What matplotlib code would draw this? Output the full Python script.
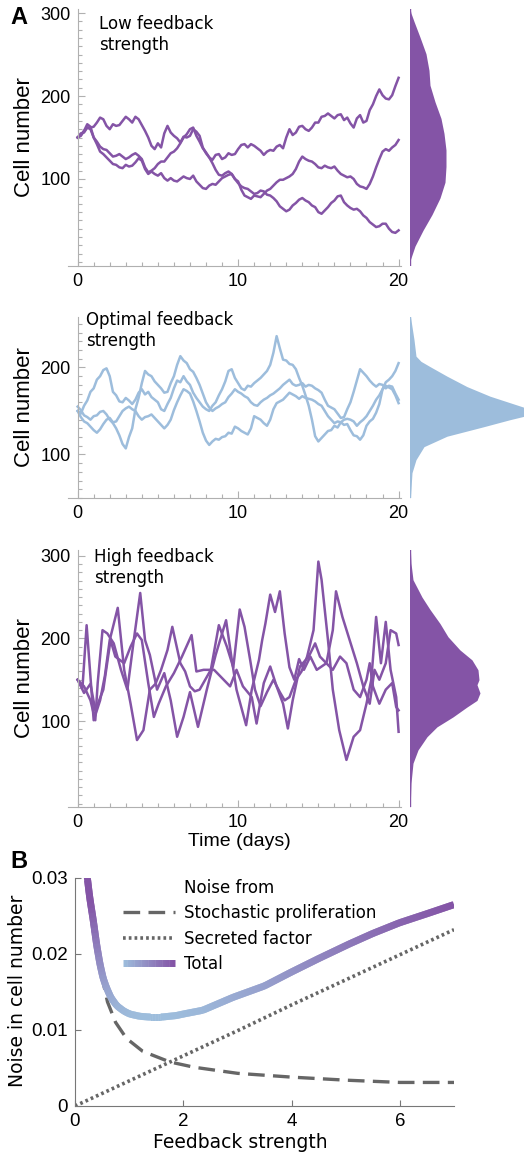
import numpy as np
import matplotlib
matplotlib.use("Agg")
import matplotlib.pyplot as plt
from matplotlib.collections import LineCollection
from matplotlib.colors import LinearSegmentedColormap, Normalize
from matplotlib.legend_handler import HandlerLineCollection
from matplotlib.lines import Line2D
from matplotlib.ticker import MultipleLocator

PURPLE = "#8454a6"
BLUE = "#9dbddc"
GREY = "#666666"
AXGREY = "#b0b0b0"

# ---------------- Panel A: low feedback (values every 0.2 days) ----------------
low_days = np.linspace(0, 20, 101)
low_a = [150, 155, 156, 162, 162, 163, 168, 174, 172, 164,
         160, 166, 164, 165, 170, 175, 172, 168, 175, 172,
         165, 158, 150, 140, 136, 143, 138, 155, 164, 156,
         152, 149, 144, 151, 150, 152, 160, 157, 152, 138,
         131, 126, 123, 129, 130, 124, 126, 131, 129, 130,
         136, 141, 142, 138, 142, 140, 137, 134, 129, 133,
         135, 134, 139, 141, 137, 150, 160, 153, 156, 163,
         164, 160, 158, 162, 168, 168, 175, 176, 179, 176,
         173, 177, 178, 171, 174, 167, 162, 173, 177, 168,
         170, 183, 190, 200, 208, 201, 197, 196, 201, 212, 222]
low_b = [150, 153, 158, 162, 160, 150, 145, 139, 136, 135,
         131, 127, 128, 130, 127, 124, 126, 129, 131, 128,
         124, 114, 108, 110, 113, 118, 121, 121, 126, 131,
         133, 137, 143, 150, 154, 160, 162, 152, 145, 137,
         132, 126, 119, 111, 105, 104, 107, 109, 106, 100,
         97, 87, 80, 78, 76, 80, 79, 78, 82, 86,
         88, 92, 96, 99, 99, 101, 103, 106, 112, 121,
         127, 124, 122, 121, 118, 114, 113, 116, 114, 113,
         115, 110, 106, 104, 102, 103, 100, 94, 91, 90,
         88, 94, 103, 114, 124, 133, 136, 134, 138, 141, 147]
low_c = [150, 152, 158, 166, 163, 150, 142, 133, 130, 126,
         122, 118, 117, 114, 113, 117, 115, 116, 120, 125,
         122, 112, 106, 109, 106, 104, 107, 101, 98, 101,
         98, 97, 100, 103, 101, 100, 104, 97, 93, 89,
         88, 92, 94, 93, 97, 101, 103, 105, 106, 100,
         95, 91, 89, 88, 85, 82, 83, 86, 85, 81,
         80, 77, 73, 67, 64, 61, 63, 68, 71, 75,
         77, 74, 72, 68, 66, 60, 58, 62, 66, 71,
         74, 79, 80, 72, 68, 65, 63, 64, 61, 56,
         53, 48, 45, 42, 43, 46, 46, 40, 36, 35, 38]
low_dist_level = [306, 300, 290, 271, 251, 231, 213, 193, 173, 155, 135, 115, 96, 77, 57, 38, 19, 3, -5]
low_dist_width = [0, 1, 4, 10, 16, 19, 20, 25, 31, 34, 36, 36, 35, 30, 22, 13, 5, 0.5, 0]

# ---------------- Panel A: optimal feedback (values every 0.2 days) ----------------
opt_days = np.linspace(0, 20, 101)
opt_a = [150, 147, 156, 162, 172, 176, 186, 190, 197, 199,
         190, 172, 168, 161, 160, 165, 162, 158, 163, 171,
         175, 169, 172, 166, 163, 160, 152, 150, 158, 165,
         176, 185, 183, 190, 184, 180, 171, 165, 160, 155,
         152, 150, 156, 160, 168, 175, 184, 196, 198, 188,
         182, 176, 174, 179, 178, 182, 185, 188, 192, 196,
         203, 217, 236, 222, 209, 208, 204, 203, 198, 188,
         179, 168, 156, 140, 121, 115, 119, 123, 127, 128,
         133, 131, 137, 134, 135, 128, 122, 121, 117, 122,
         133, 138, 141, 148, 158, 175, 183, 186, 190, 196, 205]
opt_b = [155, 151, 145, 143, 140, 144, 145, 149, 150, 146,
         140, 136, 130, 122, 112, 107, 120, 130, 152, 165,
         182, 196, 192, 190, 184, 180, 176, 171, 172, 182,
         190, 203, 213, 208, 205, 198, 195, 188, 180, 170,
         160, 154, 150, 153, 155, 158, 160, 166, 170, 175,
         172, 170, 167, 165, 160, 157, 156, 160, 163, 165,
         168, 170, 173, 176, 180, 183, 186, 181, 179, 180,
         182, 178, 180, 179, 176, 174, 171, 163, 156, 154,
         152, 147, 142, 143, 152, 160, 172, 185, 198, 194,
         190, 185, 181, 178, 181, 180, 176, 179, 178, 170, 163]
opt_c = [150, 143, 138, 136, 132, 128, 125, 129, 135, 140,
         142, 137, 138, 144, 150, 153, 155, 152, 150, 144,
         140, 143, 144, 146, 142, 138, 134, 130, 134, 140,
         151, 160, 168, 175, 173, 170, 161, 150, 138, 125,
         116, 111, 115, 118, 117, 120, 121, 125, 124, 132,
         130, 127, 125, 123, 130, 144, 142, 140, 136, 133,
         140, 152, 159, 161, 163, 167, 171, 169, 167, 164,
         167, 165, 164, 163, 161, 158, 156, 150, 144, 140,
         136, 138, 137, 140, 141, 140, 138, 133, 137, 140,
         144, 150, 156, 163, 168, 175, 179, 177, 175, 168, 159]
opt_dist_level = [258, 232, 213, 207, 201, 190, 178, 167, 161, 155, 150, 145, 140, 132, 121, 109, 94, 79, 52, 50]
opt_dist_width = [0.5, 4, 6, 11, 20, 37, 57, 80, 96, 112, 125, 118, 100, 74, 37, 14, 6, 2, 0.5, 0.3]

# ---------------- Panel A: high feedback ----------------
high_a_t = [0, 0.3, 0.56, 1.0, 1.4, 1.7, 2.0, 2.5, 2.9, 3.3, 3.7, 4.1, 4.5, 4.85, 5.2, 5.6, 5.9, 6.4, 6.7,
            7.0, 7.3, 7.6, 7.95, 8.3, 8.8, 9.3, 9.7, 10.1, 10.4, 10.75, 11.05, 11.4, 11.8, 12.2, 12.6, 12.9,
            13.2, 13.6, 13.95, 14.3, 14.7, 15.0, 15.2, 15.6, 15.9, 16.3, 16.75, 17.2, 17.6, 18.0, 18.3, 18.6,
            18.9, 19.2, 19.5, 19.85, 20.0]
high_a_v = [150, 140, 216, 101, 125, 155, 198, 237, 162, 121, 77, 89, 138, 145, 162, 186, 214, 170, 160,
            142, 136, 138, 150, 162, 216, 190, 165, 235, 214, 174, 138, 118, 135, 150, 135, 125,
            129, 150, 160, 178, 210, 293, 271, 198, 138, 89, 53, 81, 89, 121, 150, 226,
            170, 220, 162, 129, 87]
high_b_t = [0, 0.4, 0.8, 1.1, 1.25, 1.55, 1.85, 2.25, 2.7, 3.1, 3.5, 3.9, 4.2, 4.5, 4.95, 5.4, 5.8, 6.2, 6.6,
            7.0, 7.5, 8.05, 8.6, 9.25, 9.6, 9.9, 10.5, 10.85, 11.3, 11.5, 11.7, 12.0, 12.3, 12.6, 12.9, 13.2,
            13.5, 13.8, 14.1, 14.5, 14.9, 15.5, 15.9, 16.1, 16.5, 16.95, 17.4, 17.8, 18.2, 18.5, 18.8, 19.2,
            19.5, 19.85, 20.0]
high_b_v = [150, 142, 125, 101, 146, 210, 206, 194, 162, 138, 198, 255, 198, 180, 138, 158, 125, 81, 105,
            135, 93, 138, 180, 222, 175, 138, 95, 138, 174, 198, 218, 253, 232, 257, 206, 165,
            150, 175, 162, 178, 162, 170, 210, 257, 226, 198, 170, 142, 121, 162, 150, 170,
            210, 206, 192]
high_c_t = [0, 0.4, 0.8, 1.1, 1.6, 2.05, 2.35, 2.9, 3.3, 3.7, 4.0, 4.4, 4.75, 5.05, 5.5, 6.0, 6.5, 7.1, 7.4,
            7.85, 8.5, 8.9, 9.5, 9.9, 10.3, 10.85, 11.15, 11.6, 12.0, 12.4, 12.8, 13.1, 13.4, 13.85, 14.4,
            14.8, 15.1, 15.5, 15.9, 16.35, 16.75, 17.2, 17.6, 18.0, 18.2, 18.4, 18.8, 19.2, 19.6, 19.85, 20.0]
high_c_v = [150, 134, 145, 113, 138, 198, 178, 170, 190, 206, 198, 146, 105, 121, 142, 158, 178, 204, 160,
            162, 162, 154, 142, 162, 142, 129, 97, 146, 166, 142, 121, 91, 125, 166, 178,
            194, 178, 170, 162, 178, 170, 138, 129, 150, 170, 142, 121, 138, 146, 117, 113]
high_dist_level = [310, 291, 271, 250, 235, 218, 202, 186, 174, 162, 150, 144, 134, 125, 117, 105, 93, 81,
                   65, 49, 25, 0, -4]
high_dist_width = [0.3, 1, 3, 12, 20, 30, 38, 50, 62, 68, 69, 67, 70, 67, 57, 43, 27, 17, 8, 3, 1, 0.3, 0.3]

# ---------------- Panel B ----------------
prolif_x = [0.22, 0.3, 0.37, 0.48, 0.6, 0.75, 0.95, 1.25, 1.75, 2.2, 2.6, 3.0, 4.0, 5.0, 6.0, 7.0]
prolif_y = [0.0305, 0.025, 0.0215, 0.0176, 0.0137, 0.011, 0.0089, 0.0072, 0.0058, 0.0051, 0.0047, 0.0043,
            0.0038, 0.0034, 0.0031, 0.0031]
secreted_x = [0, 1, 2, 3, 4, 5, 6, 7]
secreted_y = [0, 0.0033, 0.0066, 0.0099, 0.0133, 0.0166, 0.0199, 0.0232]
total_x = [0.22, 0.27, 0.34, 0.40, 0.46, 0.52, 0.58, 0.66, 0.77, 0.9, 1.01, 1.2, 1.38, 1.6, 1.87, 2.0, 2.36,
           2.92, 3.5, 3.99, 4.5, 5.06, 5.5, 5.99, 6.5, 7.0]
total_y = [0.0305, 0.0275, 0.0243, 0.0212, 0.0187, 0.0168, 0.0156, 0.0143, 0.0132, 0.0125, 0.0121, 0.0118,
           0.0117, 0.0117, 0.0119, 0.0121, 0.0126, 0.0143, 0.0158, 0.0176, 0.0194, 0.0213, 0.0227, 0.0241,
           0.0253, 0.0265]
legend_labels = ["Stochastic proliferation", "Secreted factor", "Total"]

W, H = 524, 1159
fig = plt.figure(figsize=(W / 100, H / 100), dpi=100)


def px_box(l, t, r, b):
    return [l / W, 1 - b / H, (r - l) / W, (b - t) / H]


def trace_panel(top, bottom, traces, color, ylim, yticks, dist_lv, dist_w, title, title_y):
    ax = fig.add_axes(px_box(68, top, 401, bottom))
    for t, v in traces:
        ax.plot(t, v, color=color, lw=1.8, solid_joinstyle="round")
    ax.set_xlim(-0.6, 20.15)
    ax.set_ylim(*ylim)
    ax.spines["left"].set_position(("data", 0))
    for s in ["top", "right"]:
        ax.spines[s].set_visible(False)
    for s in ["left", "bottom"]:
        ax.spines[s].set_color(AXGREY)
        ax.spines[s].set_linewidth(0.8)
    ax.set_xticks([0, 10, 20])
    ax.set_yticks(yticks)
    ax.xaxis.set_minor_locator(MultipleLocator(1))
    ax.yaxis.set_minor_locator(MultipleLocator(10))
    ax.tick_params(which="both", direction="in", color=AXGREY, width=0.8)
    ax.tick_params(which="major", length=5, pad=5, labelsize=13)
    ax.tick_params(which="minor", length=3)
    for lab in ax.get_xticklabels() + ax.get_yticklabels():
        lab.set_family("Liberation Sans")
    ax.patch.set_alpha(0)

    # stationary distribution on the right
    axd = fig.add_axes(px_box(410, top, 524, bottom))
    axd.fill_betweenx(dist_lv, 0, dist_w, color=color, lw=0)
    axd.plot([0, 0], [min(dist_lv), max(dist_lv)], color=color, lw=1)
    axd.set_xlim(0, 114)
    axd.set_ylim(*ylim)
    axd.axis("off")

    fig.text(25 / W, 1 - (top + bottom) / 2 / H, "Cell number", rotation=90, ha="center", va="center",
             fontsize=16, family="Liberation Sans")
    fig.text(title[1] / W, 1 - title_y / H, title[0], ha="left", va="top", fontsize=12)
    return ax


trace_panel(9, 266, [(low_days, low_a), (low_days, low_b), (low_days, low_c)], PURPLE, (-5, 305),
            [100, 200, 300], low_dist_level, low_dist_width, ("Low feedback\nstrength", 99), 15)
trace_panel(317, 498, [(opt_days, opt_a), (opt_days, opt_b), (opt_days, opt_c)], BLUE, (50, 258),
            [100, 200], opt_dist_level, opt_dist_width, ("Optimal feedback\nstrength", 86), 311)
trace_panel(550, 807, [(high_a_t, high_a_v), (high_b_t, high_b_v), (high_c_t, high_c_v)], PURPLE, (-4, 307),
            [100, 200, 300], high_dist_level, high_dist_width, ("High feedback\nstrength", 94), 548)

fig.text(239 / W, 1 - 842 / H, "Time (days)", ha="center", va="center", fontsize=14, family="Liberation Sans")
fig.text(19 / W, 1 - 18 / H, "A", ha="center", va="center", fontsize=17, weight="bold", family="Liberation Sans")
fig.text(19 / W, 1 - 861 / H, "B", ha="center", va="center", fontsize=17, weight="bold", family="Liberation Sans")

# ---------------- Panel B axes ----------------
axb = fig.add_axes(px_box(75, 878, 454, 1106))
axb.plot(prolif_x, prolif_y, color=GREY, lw=2.4, dashes=(5, 2.5))
axb.plot(secreted_x, secreted_y, color=GREY, lw=2.6, dashes=(0.75, 0.85))

cmap = LinearSegmentedColormap.from_list("bp", [BLUE, PURPLE])


def gradient_segments(x, y):
    # each segment spans two steps so neighbours overlap and no seams show
    p = np.array([x, y]).T.reshape(-1, 1, 2)
    return np.concatenate([p[:-2], p[2:]], axis=1)


# dense resampling only so the colour gradient changes smoothly along the line
xs = np.linspace(total_x[0], total_x[-1], 500)
ys = np.interp(xs, total_x, total_y)
lc = LineCollection(gradient_segments(xs, ys), cmap=cmap, norm=Normalize(min(total_y), total_y[-1]),
                    lw=5, capstyle="butt", joinstyle="round")
lc.set_array(ys[1:-1])
axb.add_collection(lc)

axb.set_xlim(0, 7)
axb.set_ylim(0, 0.03)
for s in ["top", "right"]:
    axb.spines[s].set_visible(False)
for s in ["left", "bottom"]:
    axb.spines[s].set_color("#777777")
axb.set_xticks([0, 2, 4, 6])
axb.set_yticks([0, 0.01, 0.02, 0.03])
axb.set_yticklabels(["0", "0.01", "0.02", "0.03"])
axb.tick_params(direction="in", color="#777777", length=4, labelsize=13.5, pad=5)
for lab in axb.get_xticklabels() + axb.get_yticklabels():
    lab.set_family("Liberation Sans")
fig.text(240 / W, 1 - 1143 / H, "Feedback strength", ha="center", va="center", fontsize=13.5)
fig.text(18 / W, 1 - 991 / H, "Noise in cell number", rotation=90, ha="center", va="center", fontsize=13.5)


class GradientHandler(HandlerLineCollection):
    def create_artists(self, legend, orig_handle, xdescent, ydescent, width, height, fontsize, trans):
        gx = np.linspace(0, width, 60) - xdescent
        gy = np.full_like(gx, height / 2 - ydescent)
        g = LineCollection(gradient_segments(gx, gy), cmap=cmap, norm=Normalize(0, 1), transform=trans,
                           lw=5, capstyle="butt")
        g.set_array(np.linspace(0, 1, len(gx) - 2))
        return [g]


proxy = LineCollection([], cmap=cmap)
handles = [Line2D([], [], color=GREY, lw=2.4, dashes=(5, 2.5)),
           Line2D([], [], color=GREY, lw=2.6, dashes=(0.75, 0.85)),
           proxy]
axb.legend(handles, legend_labels, handler_map={LineCollection: GradientHandler()},
           loc="upper left", bbox_to_anchor=(123 / W, 1 - 904 / H), bbox_transform=fig.transFigure,
           frameon=False, fontsize=12, handlelength=3.1, handletextpad=0.55, labelspacing=0.45,
           borderpad=0, borderaxespad=0)
fig.text(184 / W, 1 - 888 / H, "Noise from", ha="left", va="center", fontsize=12)

fig.savefig("out.png", dpi=100)
